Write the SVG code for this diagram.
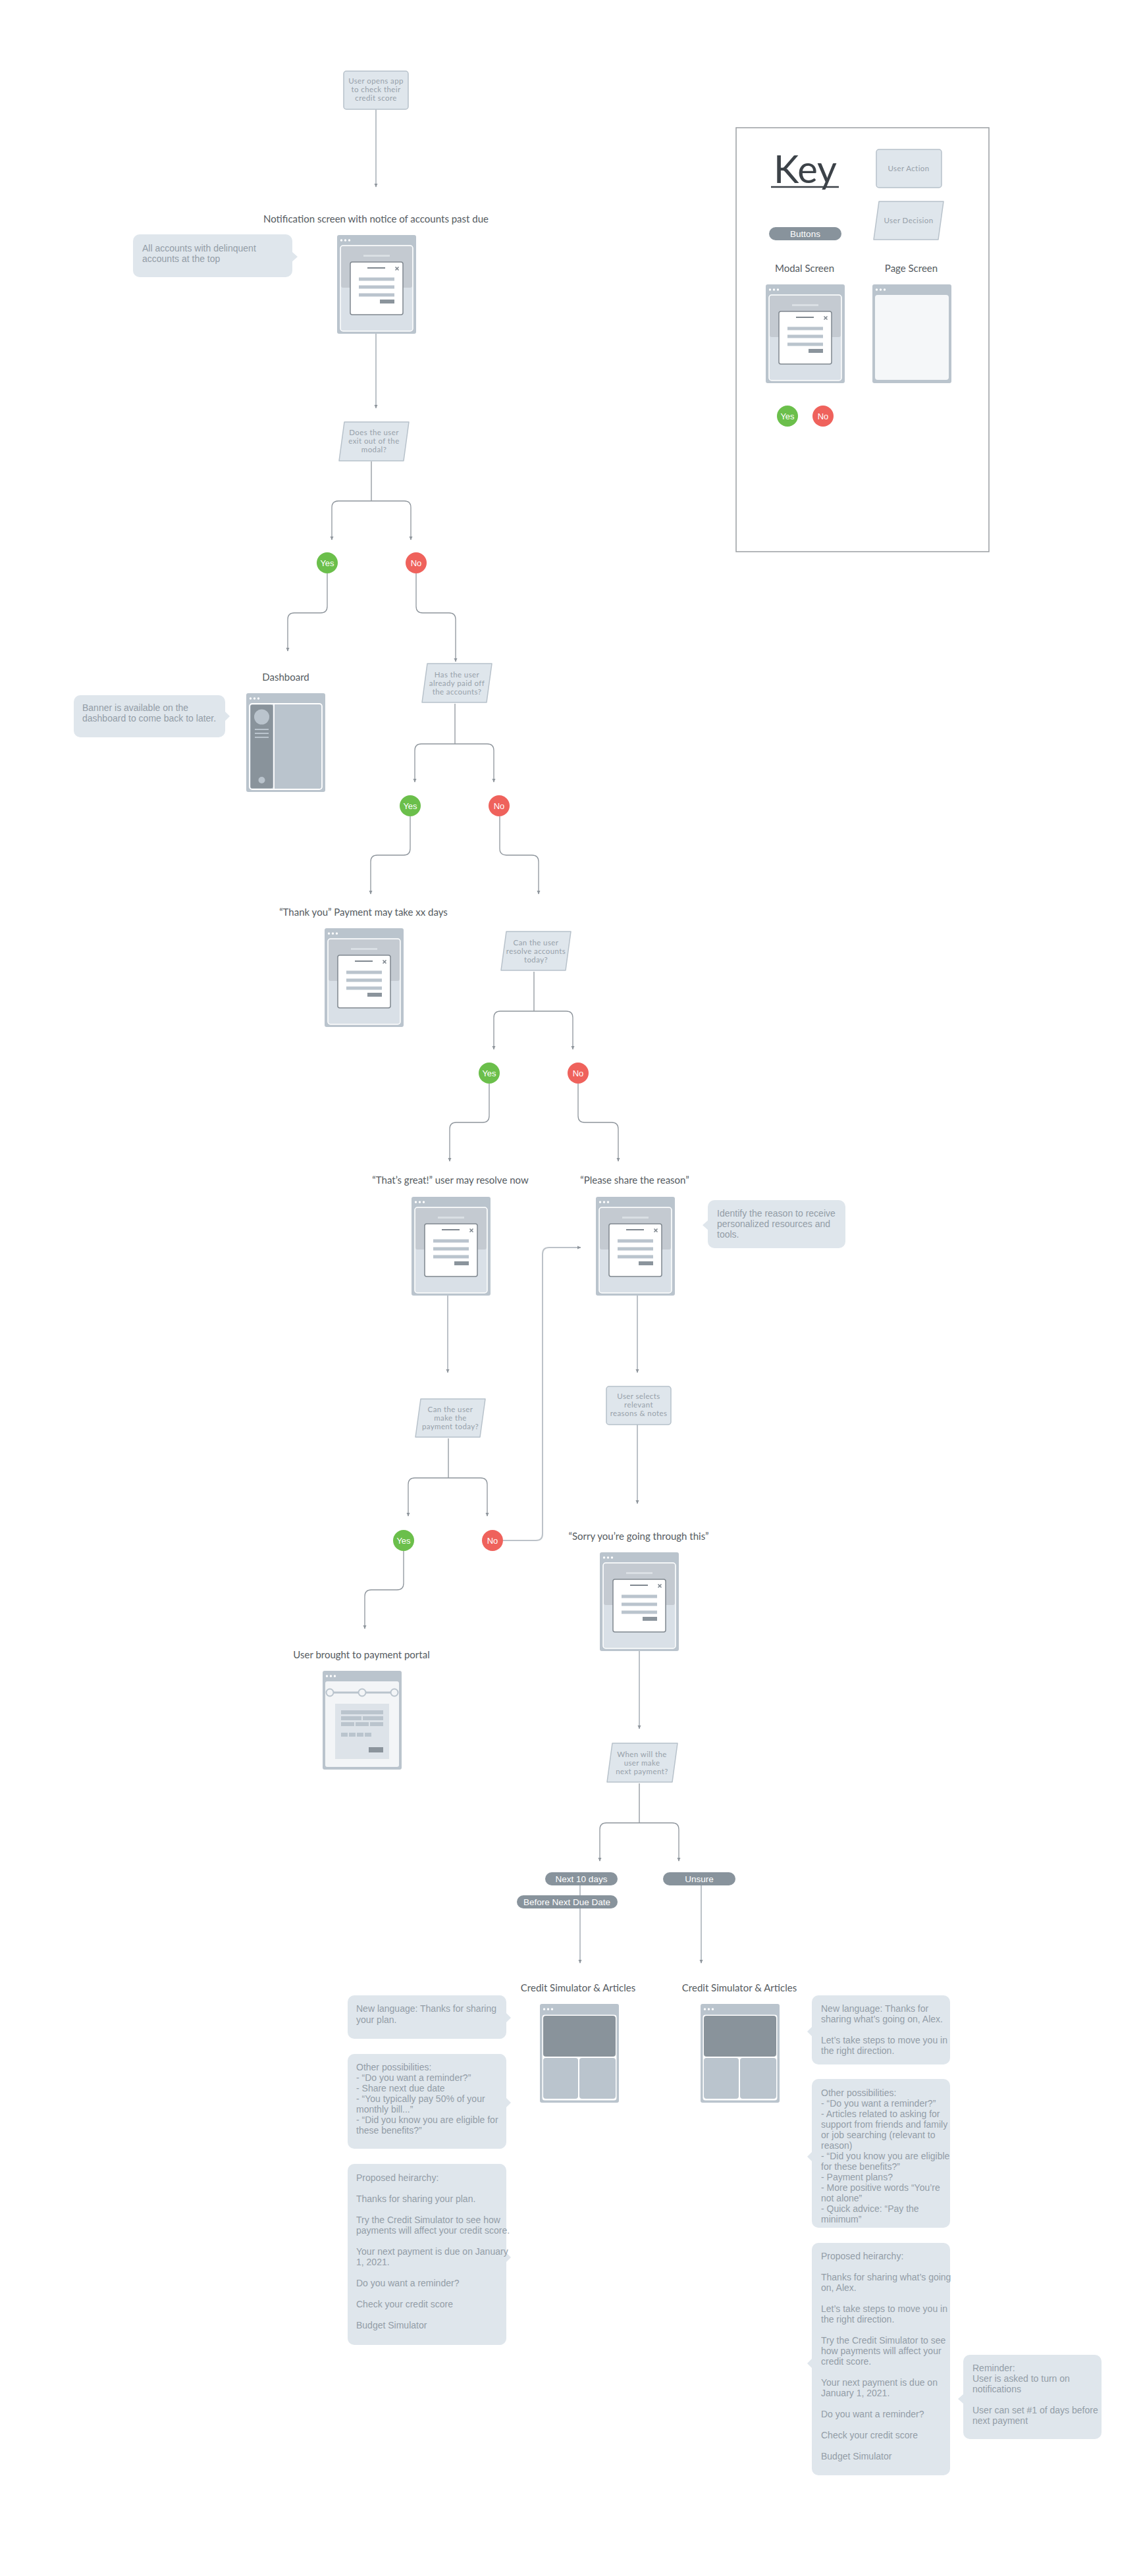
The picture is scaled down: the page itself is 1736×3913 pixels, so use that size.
<svg xmlns="http://www.w3.org/2000/svg" xmlns:xlink="http://www.w3.org/1999/xlink" width="1736" height="3913" viewBox="0 0 1736 3913">
<style>
.lbl{font-family:Lato,"Open Sans","Liberation Sans",sans-serif;font-size:15px;fill:#555b61;text-anchor:middle}
.dt{font-family:Lato,"Liberation Sans",sans-serif;font-size:11.5px;fill:#97a1aa;text-anchor:middle;letter-spacing:0.4px}
.nt{font-family:"Liberation Sans",Arial,sans-serif;font-size:14px;fill:#939da7}
.note{fill:#dfe6ec}
.dec{fill:#dfe6ec;stroke:#b7c1ca;stroke-width:1.5;stroke-linejoin:round}
.yes{fill:#6bbf4b}
.no{fill:#ef625c}
.yn{font-family:"Liberation Sans",Arial,sans-serif;font-size:13px;fill:#fff;text-anchor:middle}
.pill{fill:#88939c}
.pt{font-family:"Liberation Sans",Arial,sans-serif;font-size:13.5px;fill:#fff;text-anchor:middle}
.c{fill:none;stroke:#8e959c;stroke-width:1.3;marker-end:url(#ah)}
.cl{fill:none;stroke:#bcc2c8;stroke-width:2;marker-end:url(#ah)}
.stem{fill:none;stroke:#8e959c;stroke-width:1.3}
.frame{fill:#bac4cd}
.dot{fill:#fff}
</style>
<defs>
<marker id="ah" markerWidth="6" markerHeight="6" refX="5" refY="3" orient="auto" markerUnits="userSpaceOnUse"><path d="M0,0.5 L5.5,3 L0,5.5z" fill="#8e959c"/></marker>
<g id="dots"><circle class="dot" cx="6.5" cy="8" r="1.7"/><circle class="dot" cx="12.5" cy="8" r="1.7"/><circle class="dot" cx="18.5" cy="8" r="1.7"/></g>
<g id="modalScreen">
<rect class="frame" width="120" height="150" rx="3"/>
<use xlink:href="#dots"/>
<rect x="5" y="16" width="110" height="130" rx="4" fill="#d9e0e7" stroke="#fff" stroke-width="1.5"/>
<rect x="6" y="17" width="108" height="63" rx="3" fill="#c4cad1"/>
<rect x="40" y="30" width="40" height="3" fill="#dadfe4"/>
<rect x="20" y="41" width="80" height="80" rx="3" fill="#fff" stroke="#7f878f" stroke-width="1.5"/>
<line x1="46" y1="50" x2="73" y2="50" stroke="#7f878f" stroke-width="2"/>
<path d="M88.5,48.5 l5,5 m0,-5 l-5,5" stroke="#7f878f" stroke-width="1.6"/>
<rect x="33" y="64.5" width="54" height="5" fill="#bac4cd"/>
<rect x="33" y="76.5" width="54" height="5" fill="#bac4cd"/>
<rect x="33" y="88.5" width="54" height="5" fill="#bac4cd"/>
<rect x="65" y="98" width="22" height="6" fill="#8b949c"/>
</g>
<g id="pageScreen">
<rect class="frame" width="120" height="150" rx="3"/>
<use xlink:href="#dots"/>
<rect x="4" y="16" width="112" height="129" rx="4" fill="#f5f7f9"/>
</g>
<g id="dashScreen">
<rect class="frame" width="120" height="150" rx="3"/>
<use xlink:href="#dots"/>
<rect x="5" y="16" width="110" height="130" rx="4" fill="#bac4cd" stroke="#fff" stroke-width="1.8"/>
<rect x="6.5" y="17.5" width="34" height="127" rx="3" fill="#89939b"/>
<line x1="42" y1="17" x2="42" y2="145" stroke="#fff" stroke-width="1.8"/>
<circle cx="23.5" cy="36" r="11.5" fill="#bac4cd"/>
<path d="M13,55 H34 M13,61 H34 M13,67 H34" stroke="#bac4cd" stroke-width="2"/>
<circle cx="23.5" cy="132" r="5" fill="#bac4cd"/>
</g>
<g id="simScreen">
<rect class="frame" width="120" height="150" rx="3"/>
<use xlink:href="#dots"/>
<rect x="3.5" y="16.5" width="113" height="130" rx="4" fill="#fff"/>
<rect x="5" y="18" width="110" height="62" rx="4" fill="#89939b"/>
<rect x="5" y="82" width="53" height="62" rx="4" fill="#bac4cd"/>
<rect x="60" y="82" width="55" height="62" rx="4" fill="#bac4cd"/>
</g>
<g id="portalScreen">
<rect class="frame" width="120" height="150" rx="3"/>
<use xlink:href="#dots"/>
<rect x="4" y="16" width="112" height="130" rx="3" fill="#f3f5f7"/>
<line x1="11" y1="33" x2="109" y2="33" stroke="#bac4cd" stroke-width="3"/>
<circle cx="11" cy="33" r="5.5" fill="#f3f5f7" stroke="#bac4cd" stroke-width="2"/>
<circle cx="60" cy="33" r="5.5" fill="#f3f5f7" stroke="#bac4cd" stroke-width="2"/>
<circle cx="109" cy="33" r="5.5" fill="#f3f5f7" stroke="#bac4cd" stroke-width="2"/>
<rect x="19" y="50" width="82" height="84" fill="#dde3e9"/>
<rect x="28" y="60" width="64" height="6" fill="#bac4cd"/>
<rect x="28" y="69" width="31" height="6" fill="#bac4cd"/>
<rect x="61" y="69" width="31" height="6" fill="#bac4cd"/>
<rect x="28" y="78" width="20" height="6" fill="#bac4cd"/>
<rect x="50" y="78" width="20" height="6" fill="#bac4cd"/>
<rect x="72" y="78" width="20" height="6" fill="#bac4cd"/>
<rect x="28" y="94" width="10" height="6" fill="#bac4cd"/>
<rect x="40" y="94" width="10" height="6" fill="#bac4cd"/>
<rect x="52" y="94" width="10" height="6" fill="#bac4cd"/>
<rect x="64" y="94" width="10" height="6" fill="#bac4cd"/>
<rect x="70" y="116" width="22" height="8" fill="#8b949c"/>
</g>
</defs>
<rect width="1736" height="3913" fill="#fff"/>

<g id="connectors">
<path class="cl" d="M571,166 V284"/>
<path class="cl" d="M571,507 V620"/>
<path class="stem" d="M564,701 V761"/>
<path class="c" d="M564,761 H514 Q504,761 504,771 V820"/>
<path class="c" d="M564,761 H614 Q624,761 624,771 V820"/>
<path class="c" d="M497,871 V921 Q497,931 487,931 H447 Q437,931 437,941 V989"/>
<path class="c" d="M632,871 V921 Q632,931 642,931 H682 Q692,931 692,941 V1005"/>
<path class="stem" d="M691,1069 V1130"/>
<path class="c" d="M691,1130 H640 Q630,1130 630,1140 V1188"/>
<path class="c" d="M691,1130 H740 Q750,1130 750,1140 V1188"/>
<path class="c" d="M623,1240 V1289 Q623,1299 613,1299 H573 Q563,1299 563,1309 V1358"/>
<path class="c" d="M759,1240 V1289 Q759,1299 769,1299 H808 Q818,1299 818,1309 V1358"/>
<path class="stem" d="M811,1476 V1536"/>
<path class="c" d="M811,1536 H760 Q750,1536 750,1546 V1594"/>
<path class="c" d="M811,1536 H860 Q870,1536 870,1546 V1594"/>
<path class="c" d="M743,1646 V1695 Q743,1705 733,1705 H693 Q683,1705 683,1715 V1764"/>
<path class="c" d="M878,1646 V1695 Q878,1705 888,1705 H929 Q939,1705 939,1715 V1764"/>
<path class="cl" d="M680,1967 V2085"/>
<path class="stem" d="M681,2185 V2245"/>
<path class="c" d="M681,2245 H630 Q620,2245 620,2255 V2303"/>
<path class="c" d="M681,2245 H730 Q740,2245 740,2255 V2303"/>
<path class="cl" d="M764,2340 H814 Q824,2340 824,2330 V1905 Q824,1895 834,1895 H882"/>
<path class="c" d="M613,2356 V2405 Q613,2415 603,2415 H564 Q554,2415 554,2425 V2474"/>
<path class="cl" d="M968,1967 V2085"/>
<path class="cl" d="M968,2164 V2284"/>
<path class="cl" d="M971,2507 V2626"/>
<path class="stem" d="M971,2709 V2769"/>
<path class="c" d="M971,2769 H921 Q911,2769 911,2779 V2827"/>
<path class="c" d="M971,2769 H1021 Q1031,2769 1031,2779 V2827"/>
<path class="cl" d="M881,2864 V2982"/>
<path class="cl" d="M1065,2864 V2982"/>
</g>

<g id="start">
<rect x="522" y="108" width="98" height="58" rx="4" class="dec"/>
<text class="dt"><tspan x="571" y="127">User opens app</tspan><tspan x="571" y="140">to check their</tspan><tspan x="571" y="153">credit score</tspan></text>
</g>

<g id="notification">
<text class="lbl" x="571" y="338">Notification screen with notice of accounts past due</text>
<use xlink:href="#modalScreen" x="512" y="357"/>
</g>
<g id="note-delinquent">
<rect class="note" x="202" y="356" width="242" height="65" rx="10"/>
<polygon class="note" points="443,382 452,390 443,398"/>
<text class="nt"><tspan x="216" y="382">All accounts with delinquent</tspan><tspan x="216" y="398">accounts at the top</tspan></text>
</g>

<g id="decision-exit">
<path class="dec" d="M523,641 H621 L613,700 H515 Z"/>
<text class="dt"><tspan x="568" y="661">Does the user</tspan><tspan x="568" y="674">exit out of the</tspan><tspan x="568" y="687">modal?</tspan></text>
</g>
<g id="yes1"><circle class="yes" cx="497" cy="855" r="16"/><text class="yn" x="497" y="859.5">Yes</text></g>
<g id="no1"><circle class="no" cx="632" cy="855" r="16"/><text class="yn" x="632" y="859.5">No</text></g>

<g id="dashboard">
<text class="lbl" x="434" y="1034">Dashboard</text>
<use xlink:href="#dashScreen" x="374" y="1053"/>
</g>
<g id="note-banner">
<rect class="note" x="112" y="1056" width="230" height="64" rx="10"/>
<polygon class="note" points="341,1080 349,1088 341,1096"/>
<text class="nt"><tspan x="125" y="1080">Banner is available on the</tspan><tspan x="125" y="1096">dashboard to come back to later.</tspan></text>
</g>

<g id="decision-paid">
<path class="dec" d="M649,1008 H747 L739,1067 H641 Z"/>
<text class="dt"><tspan x="694" y="1029">Has the user</tspan><tspan x="694" y="1042">already paid off</tspan><tspan x="694" y="1055">the accounts?</tspan></text>
</g>
<g id="yes2"><circle class="yes" cx="623" cy="1224" r="16"/><text class="yn" x="623" y="1228.5">Yes</text></g>
<g id="no2"><circle class="no" cx="758" cy="1224" r="16"/><text class="yn" x="758" y="1228.5">No</text></g>

<g id="thankyou">
<text class="lbl" x="552" y="1391">“Thank you” Payment may take xx days</text>
<use xlink:href="#modalScreen" x="493" y="1410"/>
</g>

<g id="decision-resolve">
<path class="dec" d="M769,1415 H867 L859,1474 H761 Z"/>
<text class="dt"><tspan x="814" y="1436">Can the user</tspan><tspan x="814" y="1449">resolve accounts</tspan><tspan x="814" y="1462">today?</tspan></text>
</g>
<g id="yes3"><circle class="yes" cx="743" cy="1630" r="16"/><text class="yn" x="743" y="1634.5">Yes</text></g>
<g id="no3"><circle class="no" cx="878" cy="1630" r="16"/><text class="yn" x="878" y="1634.5">No</text></g>

<g id="thatsgreat">
<text class="lbl" x="684" y="1798">“That’s great!” user may resolve now</text>
<use xlink:href="#modalScreen" x="625" y="1818"/>
</g>
<g id="pleaseshare">
<text class="lbl" x="964" y="1798">“Please share the reason”</text>
<use xlink:href="#modalScreen" x="905" y="1818"/>
</g>
<g id="note-identify">
<rect class="note" x="1075" y="1823" width="209" height="73" rx="10"/>
<polygon class="note" points="1076,1853 1067,1861 1076,1869"/>
<text class="nt"><tspan x="1089" y="1848">Identify the reason to receive</tspan><tspan x="1089" y="1864">personalized resources and</tspan><tspan x="1089" y="1880">tools.</tspan></text>
</g>

<g id="decision-paytoday">
<path class="dec" d="M639,2125 H737 L729,2183 H631 Z"/>
<text class="dt"><tspan x="684" y="2145">Can the user</tspan><tspan x="684" y="2158">make the</tspan><tspan x="684" y="2171">payment today?</tspan></text>
</g>
<g id="yes4"><circle class="yes" cx="613" cy="2340" r="16"/><text class="yn" x="613" y="2344.5">Yes</text></g>
<g id="no4"><circle class="no" cx="748" cy="2340" r="16"/><text class="yn" x="748" y="2344.5">No</text></g>

<g id="portal">
<text class="lbl" x="549" y="2519">User brought to payment portal</text>
<use xlink:href="#portalScreen" x="490" y="2538"/>
</g>

<g id="action-reasons">
<rect x="921" y="2106" width="98" height="58" rx="4" class="dec"/>
<text class="dt"><tspan x="970" y="2125">User selects</tspan><tspan x="970" y="2138">relevant</tspan><tspan x="970" y="2151">reasons &amp; notes</tspan></text>
</g>

<g id="sorry">
<text class="lbl" x="970" y="2339">“Sorry you’re going through this”</text>
<use xlink:href="#modalScreen" x="911" y="2358"/>
</g>

<g id="decision-next">
<path class="dec" d="M930,2648 H1029 L1021,2707 H922 Z"/>
<text class="dt"><tspan x="975" y="2669">When will the</tspan><tspan x="975" y="2682">user make</tspan><tspan x="975" y="2695">next payment?</tspan></text>
</g>

<g id="pill-next10"><rect class="pill" x="828" y="2844" width="110" height="20" rx="10"/><text class="pt" x="883" y="2859">Next 10 days</text></g>
<g id="pill-beforedue"><rect class="pill" x="785" y="2879" width="153" height="20" rx="10"/><text class="pt" x="861" y="2894">Before Next Due Date</text></g>
<g id="pill-unsure"><rect class="pill" x="1007" y="2844" width="110" height="20" rx="10"/><text class="pt" x="1062" y="2859">Unsure</text></g>

<g id="sim-left">
<text class="lbl" x="878" y="3025">Credit Simulator &amp; Articles</text>
<use xlink:href="#simScreen" x="820" y="3044"/>
</g>
<g id="sim-right">
<text class="lbl" x="1123" y="3025">Credit Simulator &amp; Articles</text>
<use xlink:href="#simScreen" x="1064" y="3044"/>
</g>

<g id="note-L1">
<rect class="note" x="528" y="3031" width="241" height="66" rx="10"/>
<polygon class="note" points="768,3057 776,3065 768,3073"/>
<text class="nt"><tspan x="541" y="3056">New language: Thanks for sharing</tspan><tspan x="541" y="3073">your plan.</tspan></text>
</g>
<g id="note-L2">
<rect class="note" x="528" y="3120" width="241" height="144" rx="10"/>
<polygon class="note" points="768,3186 776,3194 768,3202"/>
<text class="nt"><tspan x="541" y="3145">Other possibilities:</tspan><tspan x="541" dy="16">- “Do you want a reminder?”</tspan><tspan x="541" dy="16">- Share next due date</tspan><tspan x="541" dy="16">- “You typically pay 50% of your</tspan><tspan x="541" dy="16">monthly bill...”</tspan><tspan x="541" dy="16">- “Did you know you are eligible for</tspan><tspan x="541" dy="16">these benefits?”</tspan></text>
</g>
<g id="note-L3">
<rect class="note" x="528" y="3287" width="241" height="275" rx="10"/>
<polygon class="note" points="768,3421 776,3429 768,3437"/>
<text class="nt"><tspan x="541" y="3313">Proposed heirarchy:</tspan><tspan x="541" dy="32">Thanks for sharing your plan.</tspan><tspan x="541" dy="32">Try the Credit Simulator to see how</tspan><tspan x="541" dy="16">payments will affect your credit score.</tspan><tspan x="541" dy="32">Your next payment is due on January</tspan><tspan x="541" dy="16">1, 2021.</tspan><tspan x="541" dy="32">Do you want a reminder?</tspan><tspan x="541" dy="32">Check your credit score</tspan><tspan x="541" dy="32">Budget Simulator</tspan></text>
</g>

<g id="note-R1">
<rect class="note" x="1233" y="3031" width="210" height="105" rx="10"/>
<polygon class="note" points="1234,3078 1226,3086 1234,3094"/>
<text class="nt"><tspan x="1247" y="3056">New language: Thanks for</tspan><tspan x="1247" dy="16">sharing what’s going on, Alex.</tspan><tspan x="1247" dy="32">Let’s take steps to move you in</tspan><tspan x="1247" dy="16">the right direction.</tspan></text>
</g>
<g id="note-R2">
<rect class="note" x="1233" y="3158" width="210" height="226" rx="10"/>
<polygon class="note" points="1234,3268 1226,3276 1234,3284"/>
<text class="nt"><tspan x="1247" y="3184">Other possibilities:</tspan><tspan x="1247" dy="16">- “Do you want a reminder?”</tspan><tspan x="1247" dy="16">- Articles related to asking for</tspan><tspan x="1247" dy="16">support from friends and family</tspan><tspan x="1247" dy="16">or job searching (relevant to</tspan><tspan x="1247" dy="16">reason)</tspan><tspan x="1247" dy="16">- “Did you know you are eligible</tspan><tspan x="1247" dy="16">for these benefits?”</tspan><tspan x="1247" dy="16">- Payment plans?</tspan><tspan x="1247" dy="16">- More positive words “You’re</tspan><tspan x="1247" dy="16">not alone”</tspan><tspan x="1247" dy="16">- Quick advice: “Pay the</tspan><tspan x="1247" dy="16">minimum”</tspan></text>
</g>
<g id="note-R3">
<rect class="note" x="1233" y="3407" width="210" height="353" rx="10"/>
<polygon class="note" points="1234,3582 1226,3590 1234,3598"/>
<text class="nt"><tspan x="1247" y="3432">Proposed heirarchy:</tspan><tspan x="1247" dy="32">Thanks for sharing what’s going</tspan><tspan x="1247" dy="16">on, Alex.</tspan><tspan x="1247" dy="32">Let’s take steps to move you in</tspan><tspan x="1247" dy="16">the right direction.</tspan><tspan x="1247" dy="32">Try the Credit Simulator to see</tspan><tspan x="1247" dy="16">how payments will affect your</tspan><tspan x="1247" dy="16">credit score.</tspan><tspan x="1247" dy="32">Your next payment is due on</tspan><tspan x="1247" dy="16">January 1, 2021.</tspan><tspan x="1247" dy="32">Do you want a reminder?</tspan><tspan x="1247" dy="32">Check your credit score</tspan><tspan x="1247" dy="32">Budget Simulator</tspan></text>
</g>
<g id="note-reminder">
<rect class="note" x="1463" y="3577" width="210" height="128" rx="10"/>
<polygon class="note" points="1464,3636 1455,3644 1464,3652"/>
<text class="nt"><tspan x="1477" y="3602">Reminder:</tspan><tspan x="1477" dy="16">User is asked to turn on</tspan><tspan x="1477" dy="16">notifications</tspan><tspan x="1477" dy="32">User can set #1 of days before</tspan><tspan x="1477" dy="16">next payment</tspan></text>
</g>

<g id="key">
<rect x="1118" y="194" width="384" height="644" fill="none" stroke="#9a9ea2" stroke-width="1.5"/>
<text x="1175" y="278" font-family="Lato,'Open Sans',sans-serif" font-weight="400" font-size="58" fill="#3c4248">Key</text>
<line x1="1171" y1="284" x2="1274" y2="284" stroke="#3c4248" stroke-width="2.5"/>
<rect x="1331" y="227" width="99" height="58" rx="4" class="dec"/>
<text class="dt" x="1380" y="260">User Action</text>
<path class="dec" d="M1335,306 H1433 L1425,364 H1327 Z"/>
<text class="dt" x="1380" y="339">User Decision</text>
<rect class="pill" x="1168" y="345" width="110" height="20" rx="10"/>
<text class="pt" x="1223" y="360">Buttons</text>
<text class="lbl" x="1222" y="413">Modal Screen</text>
<text class="lbl" x="1384" y="413">Page Screen</text>
<use xlink:href="#modalScreen" x="1163" y="432"/>
<use xlink:href="#pageScreen" x="1325" y="432"/>
<circle class="yes" cx="1196" cy="632" r="16"/><text class="yn" x="1196" y="636.5">Yes</text>
<circle class="no" cx="1250" cy="632" r="16"/><text class="yn" x="1250" y="636.5">No</text>
</g>
</svg>
